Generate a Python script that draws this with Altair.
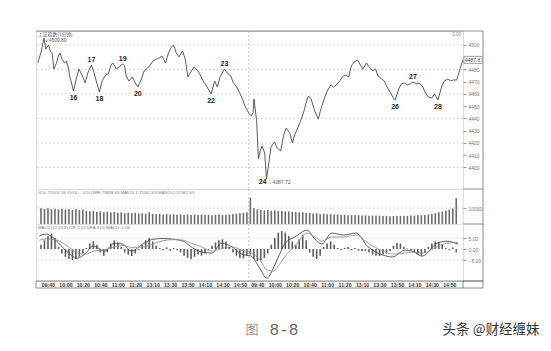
import json
import altair as alt
import pandas as pd

# ---------------- data ----------------
price_minute = [4, 8, 11, 13, 16, 18, 20, 22, 25, 27, 29, 31, 34, 36, 38, 40, 44, 47, 50, 54,
                57, 60, 64, 67, 71, 73, 76, 80, 83, 86, 88, 92, 95, 99, 101, 103, 106, 110, 113, 116,
                120, 123, 127, 130, 133, 137, 140, 143, 147, 150, 153, 156, 159, 162, 166, 169, 172, 176, 179, 183,
                186, 189, 193, 196, 198, 202, 205, 208, 213, 216, 220, 223, 226, 230, 233, 236, 240, 243, 245, 246,
                249, 251, 253, 255, 258, 260, 263, 265, 269, 272, 276, 279, 282, 286, 289, 292, 296, 299, 302, 305,
                307, 310, 314, 318, 321, 325, 328, 332, 335, 338, 342, 345, 348, 352, 355, 358, 362, 365, 368, 372,
                375, 379, 382, 385, 389, 392, 395, 399, 402, 404, 408, 411, 414, 418, 421, 424, 428, 431, 435, 438,
                441, 445, 448, 450, 452, 456, 459, 463, 466, 469, 473, 476, 478, 480]
price_value = [4485.3, 4495.1, 4505.7, 4496.7, 4500.0, 4495.1, 4493.5, 4480.4, 4485.3, 4491.0,
               4493.5, 4488.6, 4485.3, 4486.9, 4482.0, 4473.9, 4462.4, 4472.2, 4480.4, 4474.7,
               4469.0, 4477.1, 4483.7, 4477.1, 4466.5, 4461.6, 4470.6, 4475.5, 4476.3, 4483.7,
               4485.3, 4480.4, 4482.0, 4484.5, 4482.9, 4474.7, 4470.6, 4473.9, 4469.0, 4465.7,
               4472.2, 4478.8, 4481.2, 4483.7, 4486.9, 4488.6, 4489.4, 4491.0, 4485.3, 4492.7,
               4497.6, 4500.0, 4493.5, 4490.2, 4495.1, 4488.6, 4473.9, 4478.8, 4482.0, 4478.8,
               4475.5, 4470.6, 4466.5, 4462.4, 4460.0, 4470.6, 4465.7, 4473.9, 4480.4, 4477.1,
               4474.7, 4469.0, 4466.5, 4460.8, 4455.9, 4450.2, 4444.5, 4442.0, 4444.5, 4455.9,
               4438.0, 4406.9, 4413.5, 4417.6, 4411.8, 4390.6, 4405.3, 4416.7, 4420.8, 4415.9,
               4413.5, 4425.7, 4432.2, 4428.2, 4420.0, 4427.3, 4433.9, 4439.6, 4446.1, 4454.3,
               4458.4, 4455.9, 4446.1, 4439.6, 4447.8, 4456.7, 4462.4, 4467.3, 4465.7, 4467.3,
               4470.6, 4473.9, 4475.5, 4473.9, 4482.9, 4486.1, 4487.8, 4483.7, 4480.4, 4485.3,
               4482.0, 4478.8, 4480.4, 4474.7, 4472.2, 4470.6, 4465.7, 4460.8, 4456.7, 4455.1,
               4464.1, 4468.2, 4469.0, 4467.3, 4468.2, 4469.8, 4468.2, 4469.0, 4465.7, 4460.8,
               4457.6, 4456.7, 4460.0, 4457.6, 4455.1, 4465.7, 4470.6, 4472.2, 4470.6, 4471.4,
               4471.4, 4478.8, 4483.7, 4487.8]

label_text = ["16", "17", "18", "19", "20", "22", "23", "24", "26", "27", "28"]
label_minute = [44, 64, 73, 99, 116, 198, 213, 260, 404, 424, 452]
label_price = [4462.4, 4483.7, 4461.6, 4484.5, 4465.7, 4460.0, 4480.4, 4390.6, 4455.1, 4469.8, 4455.1]
label_side = ["below", "above", "below", "above", "below", "below", "above", "low", "below", "above", "below"]

high_minute, high_price, high_text = 11, 4505.7, "4509.89"
low_minute, low_price, low_text = 260, 4390.6, "4387.72"

price_ticks = [4400, 4410, 4420, 4430, 4440, 4450, 4460, 4470, 4480, 4500]
price_grid = [4400, 4420, 4440, 4460, 4480, 4500]
day_break = [240]

# volume, one bar per 4 minutes
volume = [9800, 9400, 9900, 9300, 9600, 9100, 9500, 9000, 9300, 8800, 9200, 8700, 9000,
          8200, 7900, 8100, 7600, 7800, 7400, 7700, 7300, 7500, 7100, 7300, 6900, 7100, 6800, 7000, 6600, 6800,
          6500, 7400,
          6300, 6100, 6400, 6000, 6200, 5900, 6100, 5800, 6000, 5700,
          5900, 5600, 5800, 5700, 5900, 5600, 5800, 5500, 5700, 5900,
          5600, 5800, 6000, 6200, 6400, 6700, 7000, 7400,
          16500,
          9800, 9200, 8800, 8500, 8700, 8300, 8500, 8100, 8200, 7800, 7900, 7500, 7600, 7200, 7300,
          6900, 7000, 6600, 6700, 6300, 6400, 6100, 6200, 5900, 6000, 5700, 5800, 5500, 5600, 5400, 5500,
          5300, 5400, 5200, 5300,
          5100, 5200, 5000, 5100, 4900, 5000, 5100, 5000, 5200, 5100, 5300, 5200, 5400, 5500, 5700,
          6000, 6400, 6800, 7300, 7800, 8400, 9000, 9800, 16200]
vol_ticks = [10000]

# MACD histogram, one bar per 4 minutes
macd_hist = [2.0, 4.0, 6.0, 7.0, 5.0,
             1.0, -2.0, -3.5, -4.5, -5.0, -4.5, -3.5, -2.0,
             0.5, 2.5, 3.6, 2.0,
             -1.5, -3.0, -1.5,
             2.5, 4.0, 3.0, 1.0,
             -1.5, -2.5, -3.2, -2.0, -0.5,
             2.0, 4.0, 5.0, 3.5, 1.5,
             0.5, -0.5, 0.8, -0.8, 0.5, -0.5, -1.5,
             -3.0, -4.0, -4.5, -3.5, -2.5, -3.0, -2.0, -0.5,
             1.5, 3.0, 4.0, 4.5, 3.5, 1.0,
             -1.5, -3.0, -4.0, -4.2, -3.0, -2.5,
             -4.5, -5.5, -5.0, -4.0, -2.0,
             2.0, 5.0, 7.5, 8.2, 7.5, 6.0, 3.5,
             2.0, 4.5, 6.5, 4.0,
             -1.5, -3.5, -4.5, -3.0,
             1.0, 2.5, 3.5, 2.0, 0.5,
             -0.5, 0.6, 1.0, -0.5, 0.5, -0.8, -1.0, -0.8, -1.5,
             -2.5, -3.0, -3.2, -2.5, -2.0, -1.0,
             1.5, 2.8, 2.5, 1.0,
             0.3, -0.5, -1.5, -2.5, -2.8, -1.5,
             1.0, 2.5, 3.5, 3.2, 2.0,
             0.5, -0.5, 0.8, -1.5]

line_minute = [0, 8, 19, 30, 44, 53, 62, 75, 86, 95, 106, 120, 131, 142, 153, 165, 176, 187, 198, 209,
               221, 232, 243, 252, 261, 268, 273, 282, 293, 307, 316, 324, 335, 349, 363, 377, 394, 405, 419, 428,
               439, 456, 467, 480]
dif_value = [6.0, 6.8, 4.0, -0.5, -4.1, -2.0, 1.4, -0.9, 2.7, 2.3, -0.9, 2.7, 4.5, 4.8, 4.5, 3.6, 0.5, -1.4, -1.8, 2.7,
             1.0, -2.3, -3.2, -8.2, -13.2, -9.0, -4.5, 2.7, 5.5, 8.6, 4.5, 2.3, 7.3, 6.4, 7.3, 1.0, -2.7, -3.6, -0.5, -1.0,
             -3.2, 2.7, 3.6, 2.2]
dea_value = [4.0, 4.6, 4.2, 2.0, -1.8, -2.3, -1.0, -0.3, 0.9, 1.6, 0.8, 1.0, 2.5, 3.8, 4.3, 4.0, 2.5, 0.8, -0.9, 0.2,
             1.0, -0.5, -1.8, -4.5, -9.5, -10.0, -8.2, -3.2, 1.4, 7.3, 5.5, 3.6, 5.5, 5.5, 6.4, 2.7, -0.9, -2.3, -1.8, -1.4,
             -1.8, 1.0, 2.7, 3.0]
macd_ticks = [5, 0, -5]
macd_grid = [5, -5]

time_tick_minute = [10, 30, 50, 70, 90, 110, 130, 150, 170, 190, 210, 230,
                    250, 270, 290, 310, 330, 350, 370, 390, 410, 430, 450, 470]
time_tick_label = ["09:40", "10:00", "10:20", "10:40", "11:00", "11:20", "13:10", "13:30", "13:50", "14:10", "14:30", "14:50",
                   "09:40", "10:00", "10:20", "10:40", "11:00", "11:20", "13:10", "13:30", "13:50", "14:10", "14:30", "14:50"]

price_title = "上证指数(1分钟)"
vol_header = "VOL:75505.59 VVOL:- VOLUME:75858.63 MAVOL1:75562.63 MAVOL2:57362.63"
macd_header = "MACD(12,26,9) DIF:2.22 DEA:3.00 MACD:-1.56"
corner_text = "0.00"
caption_fig = "图"
caption_num = "8-8"
watermark = "头条 @财经缠妹"

# ---------------- layout / style ----------------
W = 427
H_PRICE, H_VOL, H_MACD = 158, 35, 57
OUTER = 447          # outer frame on the right of the axis labels
FONT = "Liberation Sans"
CJK = "Noto Sans CJK SC"
FRAME = "#707070"
GRID = "#cfcfcf"
INK = "#4a4a4a"

xscale = alt.Scale(domain=[2, 480], nice=False, zero=False)
x_plain = alt.X("m:Q", scale=xscale, axis=None)

pscale = alt.Scale(domain=[4382.4, 4511.4], nice=False, zero=False)
price_axis = alt.Axis(orient="right", values=price_ticks, format="d", grid=False, domain=False,
                      tickSize=3, tickColor="#999", labelFontSize=5, labelColor="#777",
                      labelPadding=2, title=None, labelFont=FONT)
y_price = alt.Y("p:Q", scale=pscale, axis=price_axis)


def one(**kw):
    return pd.DataFrame({k: [v] for k, v in kw.items()})


def frame_layers(h):
    d = one(a=0)
    right = alt.Chart(d).mark_rule(color=FRAME, strokeWidth=0.8).encode(
        x=alt.value(OUTER), y=alt.value(0), y2=alt.value(h))
    bottom = alt.Chart(d).mark_rule(color=FRAME, strokeWidth=0.8).encode(
        x=alt.value(W), x2=alt.value(OUTER), y=alt.value(h))
    return [right, bottom]


# ---- price panel ----
price_df = pd.DataFrame({"m": price_minute, "p": price_value})
lab_df = pd.DataFrame({"m": label_minute, "p": label_price, "t": label_text, "side": label_side})

p_grid = alt.Chart(pd.DataFrame({"p": price_grid})).mark_rule(
    color=GRID, strokeDash=[2, 2], strokeWidth=0.8).encode(y=y_price)
p_sep = alt.Chart(pd.DataFrame({"m": day_break})).mark_rule(
    color="#bdbdbd", strokeDash=[2, 2], strokeWidth=0.8).encode(x=x_plain)
p_line = alt.Chart(price_df).mark_line(color=INK, strokeWidth=0.9).encode(x=x_plain, y=y_price)
lab_style = dict(fontSize=7, fontWeight="bold", color="#222", font=FONT)
p_above = alt.Chart(lab_df).transform_filter("datum.side == 'above'").mark_text(
    baseline="bottom", dy=-2, **lab_style).encode(x=x_plain, y=y_price, text="t:N")
p_below = alt.Chart(lab_df).transform_filter("datum.side == 'below'").mark_text(
    baseline="top", dy=3, **lab_style).encode(x=x_plain, y=y_price, text="t:N")
p_low = alt.Chart(lab_df).transform_filter("datum.side == 'low'").mark_text(
    baseline="middle", align="right", dx=0, dy=3, **lab_style).encode(x=x_plain, y=y_price, text="t:N")
p_lowtxt = alt.Chart(one(m=low_minute, p=low_price, t="\u2190" + low_text)).mark_text(
    align="left", baseline="middle", dx=1, dy=3, fontSize=5, color="#555", font=FONT).encode(
    x=x_plain, y=y_price, text="t:N")
p_hightxt = alt.Chart(one(m=high_minute, p=high_price, t="\u2199" + high_text)).mark_text(
    align="left", baseline="top", dx=1, dy=0, fontSize=4.8, color="#555", font=FONT).encode(
    x=x_plain, y=y_price, text="t:N")
p_title = alt.Chart(one(t=price_title)).mark_text(
    align="left", baseline="top", fontSize=4.8, color="#555", font=CJK).encode(
    x=alt.value(2), y=alt.value(0.5), text="t:N")
p_corner = alt.Chart(one(t=corner_text)).mark_text(
    align="right", baseline="top", fontSize=4.5, color="#888", font=FONT).encode(
    x=alt.value(W - 2), y=alt.value(1), text="t:N")
last_df = one(p=price_value[-1], t=f"{price_value[-1]:.1f}")
p_box = alt.Chart(last_df).mark_rect(fill="white", stroke="#666", strokeWidth=0.6,
                                     yOffset=-3.5, y2Offset=3.5).encode(
    x=alt.value(W + 1), x2=alt.value(OUTER - 1), y=y_price, y2="p:Q")
p_boxtxt = alt.Chart(last_df).mark_text(align="left", baseline="middle", fontSize=5, color="#444",
                                        font=FONT).encode(x=alt.value(W + 2), y=y_price, text="t:N")
p_top = alt.Chart(one(a=0)).mark_rule(color=FRAME, strokeWidth=0.8).encode(
    x=alt.value(0), x2=alt.value(OUTER), y=alt.value(0))

price_chart = alt.layer(p_grid, p_sep, p_line, p_above, p_below, p_low, p_lowtxt, p_hightxt,
                        p_title, p_corner, p_box, p_boxtxt, p_top, *frame_layers(H_PRICE)).properties(
    width=W, height=H_PRICE)

# ---- volume panel ----
vol_df = pd.DataFrame({"m": [4 * i + 2 for i in range(len(volume))], "v": volume})
vscale = alt.Scale(domain=[0, 21900], nice=False, zero=True)
vol_axis = alt.Axis(orient="right", values=vol_ticks, format="d", grid=False, domain=False,
                    tickSize=3, tickColor="#999", labelFontSize=5, labelColor="#777",
                    labelPadding=2, title=None, labelFont=FONT)
y_vol = alt.Y("v:Q", scale=vscale, axis=vol_axis)
v_grid = alt.Chart(pd.DataFrame({"v": vol_ticks})).mark_rule(
    color=GRID, strokeDash=[2, 2], strokeWidth=0.8).encode(y=y_vol)
v_sep = alt.Chart(pd.DataFrame({"m": day_break})).mark_rule(
    color="#bdbdbd", strokeDash=[2, 2], strokeWidth=0.8).encode(x=x_plain)
v_bars = alt.Chart(vol_df).mark_bar(width=1.6, color="#6c6c6c").encode(x=x_plain, y=y_vol)
v_head = alt.Chart(one(t=vol_header)).mark_text(
    align="left", baseline="top", fontSize=4.3, color="#777", font=FONT).encode(
    x=alt.value(2), y=alt.value(1.5), text="t:N")
vol_chart = alt.layer(v_grid, v_sep, v_bars, v_head, *frame_layers(H_VOL)).properties(
    width=W, height=H_VOL)

# ---- MACD panel ----
mscale = alt.Scale(domain=[-14.5, 11.4], nice=False, zero=True)
macd_axis = alt.Axis(orient="right", values=macd_ticks, format=".2f", grid=False, domain=False,
                     tickSize=3, tickColor="#999", labelFontSize=5, labelColor="#777",
                     labelPadding=2, title=None, labelFont=FONT)
y_macd = alt.Y("h:Q", scale=mscale, axis=macd_axis)
label_expr = f"{json.dumps(time_tick_label)}[indexof({json.dumps(time_tick_minute)}, datum.value)]"
time_axis = alt.Axis(orient="bottom", values=time_tick_minute, labelExpr=label_expr, ticks=False,
                     domain=False, grid=False, labelFontSize=5.2, labelColor="#333",
                     labelFontWeight="bold", labelPadding=1.2, title=None, labelFont=FONT)
x_time = alt.X("m:Q", scale=xscale, axis=time_axis)

hist_df = pd.DataFrame({"m": [4 * i + 2 for i in range(len(macd_hist))], "h": macd_hist})
lines_df = pd.DataFrame({"m": line_minute * 2, "h": dif_value + dea_value,
                         "s": ["DIF"] * len(line_minute) + ["DEA"] * len(line_minute)})
m_grid = alt.Chart(pd.DataFrame({"h": macd_grid})).mark_rule(
    color=GRID, strokeDash=[2, 2], strokeWidth=0.8).encode(y=y_macd)
m_sep = alt.Chart(pd.DataFrame({"m": day_break})).mark_rule(
    color="#bdbdbd", strokeDash=[2, 2], strokeWidth=0.8).encode(x=x_time)
m_bars = alt.Chart(hist_df).mark_bar(width=1.6, color="#5c5c5c").encode(x=x_time, y=y_macd)
m_dif = alt.Chart(lines_df).transform_filter("datum.s == 'DIF'").mark_line(
    color="#4a4a4a", strokeWidth=0.9, interpolate="monotone").encode(x=x_time, y=y_macd)
m_dea = alt.Chart(lines_df).transform_filter("datum.s == 'DEA'").mark_line(
    color="#909090", strokeWidth=0.9, interpolate="monotone").encode(x=x_time, y=y_macd)
m_head = alt.Chart(one(t=macd_header)).mark_text(
    align="left", baseline="top", fontSize=4.3, color="#777", font=FONT).encode(
    x=alt.value(2), y=alt.value(1.5), text="t:N")
strip = alt.Chart(one(a=0)).mark_rect(fill="transparent", stroke=FRAME, strokeWidth=0.8).encode(
    x=alt.value(0), x2=alt.value(OUTER), y=alt.value(H_MACD), y2=alt.value(H_MACD + 7))
strip_div = alt.Chart(one(a=0)).mark_rule(color=FRAME, strokeWidth=0.8).encode(
    x=alt.value(W), y=alt.value(H_MACD), y2=alt.value(H_MACD + 7))
cap1 = alt.Chart(one(t=caption_fig)).mark_text(
    align="center", baseline="middle", fontSize=13, color="#666", font=CJK, fontWeight=300).encode(
    x=alt.value(216), y=alt.value(106), text="t:N")
cap2 = alt.Chart(one(t=caption_num)).mark_text(
    align="center", baseline="middle", fontSize=16, color="#666", font="Liberation Mono").encode(
    x=alt.value(248), y=alt.value(106), text="t:N")
wm = alt.Chart(one(t=watermark)).mark_text(
    align="center", baseline="middle", fontSize=13.5, color="#333", font=CJK).encode(
    x=alt.value(455), y=alt.value(106), text="t:N")
macd_chart = alt.layer(m_grid, m_sep, m_bars, m_dif, m_dea, m_head, strip, strip_div,
                       cap1, cap2, wm, *frame_layers(H_MACD)).properties(width=W, height=H_MACD)

chart = alt.vconcat(price_chart, vol_chart, macd_chart, spacing=0, bounds="flush").properties(
    padding={"left": 35, "top": 30, "right": 2, "bottom": 2}
).configure_view(stroke=FRAME, strokeWidth=0.8).configure(background="white")

chart.save("out.html", embed_options={"renderer": "svg", "actions": False})
